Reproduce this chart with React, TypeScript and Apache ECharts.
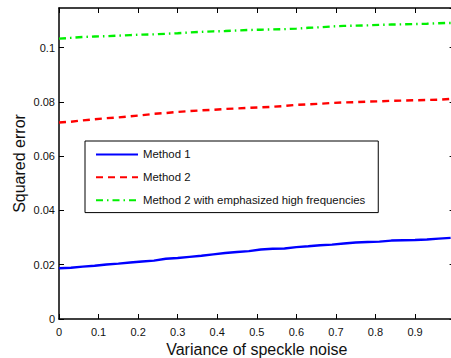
import React, { useEffect, useRef } from "react";
import * as echarts from "echarts";

const xValues = [0, 0.03, 0.06, 0.09, 0.12, 0.15, 0.18, 0.21, 0.24, 0.27, 0.3, 0.33, 0.36, 0.39, 0.42, 0.45, 0.48, 0.51, 0.54, 0.57, 0.6, 0.63, 0.66, 0.69, 0.72, 0.75, 0.78, 0.81, 0.84, 0.87, 0.9, 0.93, 0.96, 0.99];

const method1 = [0.0187, 0.0189, 0.0193, 0.0196, 0.0201, 0.0204, 0.0208, 0.0212, 0.0215, 0.0222, 0.0225, 0.0229, 0.0233, 0.0238, 0.0243, 0.0247, 0.025, 0.0256, 0.0259, 0.026, 0.0265, 0.0268, 0.0272, 0.0274, 0.0278, 0.0282, 0.0284, 0.0285, 0.0289, 0.029, 0.0291, 0.0293, 0.0296, 0.0299];

const method2 = [0.0724, 0.0727, 0.0732, 0.0736, 0.074, 0.0743, 0.0747, 0.0751, 0.0756, 0.0759, 0.0763, 0.0766, 0.0769, 0.0771, 0.0774, 0.0776, 0.0778, 0.078, 0.0782, 0.0785, 0.0789, 0.0791, 0.0793, 0.0796, 0.0798, 0.0799, 0.0801, 0.0802, 0.0804, 0.0805, 0.0806, 0.0807, 0.0808, 0.0811];

const method2Emph = [0.1033, 0.1036, 0.1039, 0.1041, 0.1042, 0.1044, 0.1046, 0.1048, 0.1049, 0.1051, 0.1053, 0.1056, 0.1058, 0.106, 0.1061, 0.1063, 0.1065, 0.1066, 0.1067, 0.1068, 0.107, 0.1073, 0.1075, 0.1078, 0.108, 0.1081, 0.1082, 0.1084, 0.1085, 0.1086, 0.1087, 0.1088, 0.109, 0.1091];

const seriesNames = ["Method 1", "Method 2", "Method 2 with emphasized high frequencies"];
const xTitle = "Variance of speckle noise";
const yTitle = "Squared error";

const FONT = "'Liberation Sans', Arial, Helvetica, sans-serif";

export default function App() {
  const ref = useRef<HTMLDivElement>(null);

  useEffect(() => {
    const chart = echarts.init(ref.current!, null, { renderer: "svg" });
    const axisLine = { show: true, onZero: false, lineStyle: { color: "#000", width: 1.5 } };
    const axisTick = { show: true, inside: true, length: 5, lineStyle: { color: "#000", width: 1 } };
    const label = { color: "#111", fontSize: 11, fontFamily: FONT, showMaxLabel: false };
    const zip = (ys: number[]) => xValues.map((x, i) => [x, ys[i]]);

    chart.setOption({
      animation: false,
      backgroundColor: "#fff",
      grid: { left: 59, right: -3.6, top: 8, bottom: 39, containLabel: false, outerBoundsMode: "none" },
      xAxis: [
        {
          type: "value", min: 0, max: 1, interval: 0.1, position: "bottom",
          axisLine, axisTick, splitLine: { show: false },
          axisLabel: { ...label, margin: 7 },
          name: xTitle, nameLocation: "middle", nameGap: 16,
          nameTextStyle: { fontSize: 16, color: "#111", fontFamily: FONT },
        },
        {
          type: "value", min: 0, max: 1, interval: 0.1, position: "top",
          axisLine, axisTick, splitLine: { show: false }, axisLabel: { show: false },
        },
      ],
      yAxis: [
        {
          type: "value", min: 0, max: 0.1146, interval: 0.02, position: "left",
          axisLine, axisTick, splitLine: { show: false },
          axisLabel: { ...label, margin: 4 },
        },
        {
          type: "value", min: 0, max: 0.1146, interval: 0.02, position: "right",
          axisLine, axisTick, splitLine: { show: false }, axisLabel: { show: false },
        },
      ],
      graphic: [
        {
          type: "text", x: 19, y: 163.5, rotation: Math.PI / 2,
          style: { text: yTitle, fontSize: 16, fill: "#111", fontFamily: FONT, align: "center", verticalAlign: "middle" },
        },
      ],
      legend: {
        orient: "vertical", left: 85, top: 141,
        itemWidth: 42, itemHeight: 14, itemGap: 11.7,
        padding: [7.8, 13, 6.8, 10],
        borderColor: "#000", borderWidth: 1, backgroundColor: "#fff",
        itemStyle: { opacity: 0 },
        textStyle: { fontSize: 11.4, color: "#111", fontFamily: FONT },
        data: seriesNames,
      },
      series: [
        {
          name: seriesNames[0], type: "line", data: zip(method1), showSymbol: false, symbol: "none",
          lineStyle: { color: "#0000ff", width: 2.4, type: "solid" }, itemStyle: { color: "#0000ff" },
        },
        {
          name: seriesNames[1], type: "line", data: zip(method2), showSymbol: false, symbol: "none",
          lineStyle: { color: "#ff0000", width: 2.4, type: [7, 5] }, itemStyle: { color: "#ff0000" },
        },
        {
          name: seriesNames[2], type: "line", data: zip(method2Emph), showSymbol: false, symbol: "none",
          lineStyle: { color: "#00f000", width: 2.4, type: [7, 4, 1.5, 4] }, itemStyle: { color: "#00f000" },
        },
      ],
    });
    return () => chart.dispose();
  }, []);

  return (
    <div
      ref={ref}
      style={{ position: "fixed", left: 0, top: 0, width: 451, height: 358, background: "#fff" }}
    />
  );
}
